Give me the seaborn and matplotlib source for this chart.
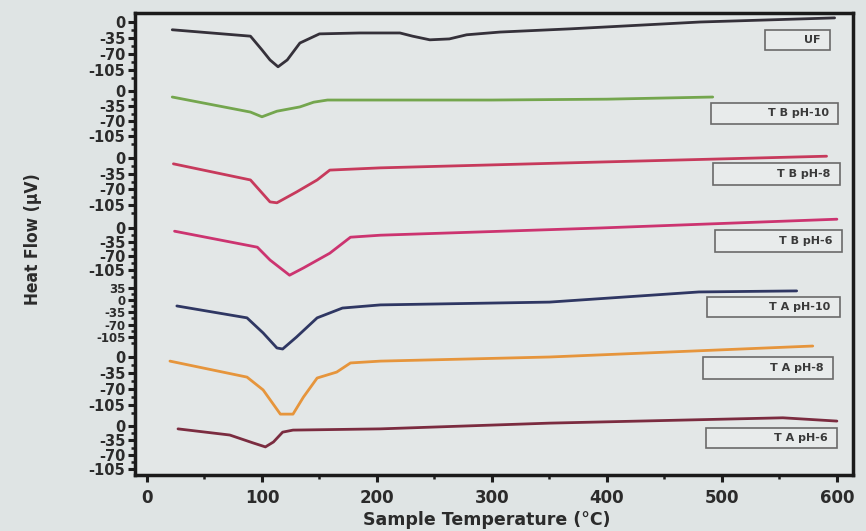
import numpy as np
import pandas as pd
import matplotlib.pyplot as plt
import seaborn as sns
from matplotlib.patches import Rectangle

# DSC curves, heat flow (uV) vs sample temperature (C)
samples = ["UF", "T B pH-10", "T B pH-8", "T B pH-6", "T A pH-10", "T A pH-8", "T A pH-6"]
colors = ["#35313a", "#74a64e", "#c73a5c", "#cc3470", "#2f3763", "#e6953c", "#7b2c40"]

temp_uf = [22, 90, 100, 107, 114, 122, 133, 150, 185, 220, 231, 246, 263, 278, 307, 368, 481, 598]
flow_uf = [-17, -31, -61, -83, -98, -83, -46, -26, -24, -24, -31, -39, -37, -28, -22, -15, 0, 9]

temp_b10 = [22, 90, 100, 113, 133, 145, 157, 300, 400, 492]
flow_b10 = [-14, -49, -60, -47, -37, -26, -21, -21, -19, -14]

temp_b8 = [23, 90, 107, 113, 130, 148, 159, 203, 394, 591]
flow_b8 = [-13, -49, -98, -100, -76, -49, -27, -22, -9, 4]

temp_b6 = [24, 96, 107, 124, 136, 159, 177, 203, 394, 600]
flow_b6 = [-8, -48, -80, -118, -100, -63, -23, -18, 0, 22]

temp_a10 = [26, 87, 101, 113, 118, 130, 148, 170, 203, 350, 480, 565]
flow_a10 = [-17, -51, -94, -137, -140, -106, -51, -23, -14, -6, 23, 26]

temp_a8 = [20, 87, 101, 116, 127, 136, 148, 165, 177, 203, 350, 579]
flow_a8 = [-9, -44, -72, -125, -125, -88, -46, -33, -13, -9, 0, 24]

temp_a6 = [27, 72, 92, 103, 110, 118, 127, 203, 350, 553, 600]
flow_a6 = [-7, -22, -41, -51, -39, -15, -10, -7, 7, 20, 12]

temps = [temp_uf, temp_b10, temp_b8, temp_b6, temp_a10, temp_a8, temp_a6]
flows = [flow_uf, flow_b10, flow_b8, flow_b6, flow_a10, flow_a8, flow_a6]

ytick_std = [0, -35, -70, -105]
ytick_a10 = [35, 0, -35, -70, -105]
yticks = [ytick_std, ytick_std, ytick_std, ytick_std, ytick_a10, ytick_std, ytick_std]

# stacking layout: baseline position and vertical gain of each trace
base = [22, 91, 158, 228, 300, 357, 426]
gain = [0.457, 0.43, 0.448, 0.40, 0.35, 0.457, 0.41]

sns.set_style("ticks")
bg = "#dfe4e4"
fig = plt.figure(figsize=(8.66, 5.31), dpi=100, facecolor=bg)
ax = fig.add_axes([135 / 866, 1 - 475 / 531, (853 - 135) / 866, (475 - 13) / 531])
ax.set_facecolor("#e3e7e7")

frames = []
for i, name in enumerate(samples):
    d = pd.DataFrame({"T": temps[i], "flow": flows[i]})
    d["y"] = -base[i] + gain[i] * d["flow"]
    d["sample"] = name
    frames.append(d)
df = pd.concat(frames, ignore_index=True)

sns.lineplot(data=df, x="T", y="y", hue="sample", palette=dict(zip(samples, colors)),
             sort=False, linewidth=2.0, legend=False, ax=ax)

# tick marks and labels for each trace's own scale
major_pos, major_lab, minor_pos, small = [], [], [], []
for i in range(len(samples)):
    for v in yticks[i]:
        major_pos.append(-base[i] + gain[i] * v)
        major_lab.append(str(v))
        small.append(len(yticks[i]) > 4)
    for v in np.arange(yticks[i][0] - 17.5, -125, -35):
        minor_pos.append(-base[i] + gain[i] * v)
ax.set_yticks(major_pos)
ax.set_yticklabels(major_lab)
ax.set_yticks(minor_pos, minor=True)

ax.set_xticks([0, 100, 200, 300, 400, 500, 600])
ax.set_xticks([50, 150, 250, 350, 450, 550], minor=True)
ax.set_xlim(-10.4, 614)
ax.set_ylim(-475, -13)

ax.tick_params(axis="both", which="major", direction="out", length=5, width=2.2,
               labelsize=10.5, colors="#1e1e1e", pad=2)
ax.tick_params(axis="both", which="minor", direction="out", length=3, width=1.8, colors="#1e1e1e")
ax.tick_params(axis="x", labelsize=12, pad=5)
for lab in ax.get_xticklabels() + ax.get_yticklabels():
    lab.set_fontweight("bold")
    lab.set_color("#2b2b2b")
for lab, sm in zip(ax.get_yticklabels(), small):
    if sm:
        lab.set_fontsize(8.5)

for s in ax.spines.values():
    s.set_visible(True)
    s.set_linewidth(2.5)
    s.set_color("#1b1b1b")

ax.set_xlabel("Sample Temperature (°C)", fontsize=12.5, fontweight="bold", color="#2b2b2b")
ax.xaxis.set_label_coords(0.49, -0.078)
ax.set_ylabel("Heat Flow (µV)", fontsize=12.5, fontweight="bold", color="#2b2b2b",
              fontstretch="condensed")
ax.yaxis.set_label_coords(-0.13, 0.51)

# boxed sample labels (pixel boxes converted to data coordinates)
boxes = [(765, 30, 830, 50), (711, 103, 838, 124), (713, 163, 840, 185), (715, 230, 842, 252),
         (707, 297, 840, 317), (703, 357, 833, 379), (706, 428, 837, 448)]
for (x0, y0, x1, y1), name in zip(boxes, samples):
    tx0 = (x0 - 147) / 1.15
    tx1 = (x1 - 147) / 1.15
    ax.add_patch(Rectangle((tx0, -y1), tx1 - tx0, y1 - y0, facecolor="#e8ebeb",
                           edgecolor="#6a6a6a", linewidth=1.2))
    ax.text(tx1 - 8, -(y0 + y1) / 2, name, ha="right", va="center", fontsize=8,
            fontweight="bold", color="#3a3a3a")

fig.savefig("out.png", dpi=100, facecolor=bg)
